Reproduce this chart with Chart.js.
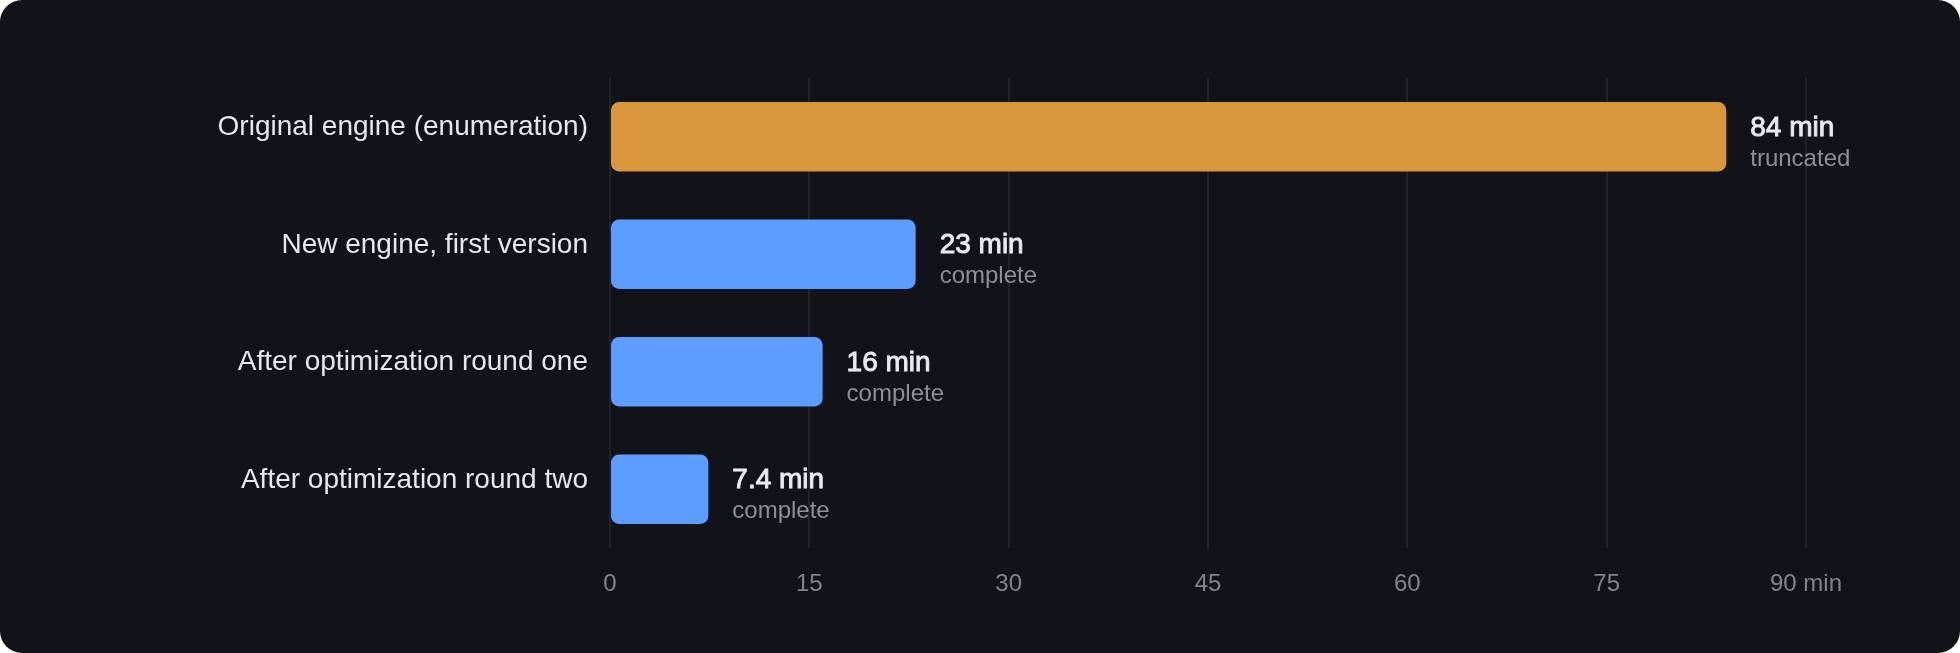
<!DOCTYPE html>
<html>
<head>
<meta charset="utf-8">
<script src="https://cdn.jsdelivr.net/npm/chart.js@4.4.1/dist/chart.umd.min.js"></script>
<style>
  html, body { margin: 0; padding: 0; background: #ffffff; }
  #card {
    width: 1960px; height: 653px;
    background: #111318;
    border-radius: 22px;
    overflow: hidden;
  }
  canvas { display: block; }
</style>
</head>
<body>
<div id="card"><canvas id="runtime" width="1960" height="653"></canvas></div>
<script>
var categories = [
  "Original engine (enumeration)",
  "New engine, first version",
  "After optimization round one",
  "After optimization round two"
];
var minutes = [84, 23, 16, 7.4];
var valueLabels = ["84 min", "23 min", "16 min", "7.4 min"];
var statusLabels = ["truncated", "complete", "complete", "complete"];
var barColors = ["#d9963d", "#5c9dff", "#5c9dff", "#5c9dff"];
var tickLabels = ["0", "15", "30", "45", "60", "75", "90 min"];

var fontFamily = '"Liberation Sans", Arial, Helvetica, sans-serif';

// draws "84 min" / "truncated" to the right of each bar
var barNotes = {
  id: 'barNotes',
  afterDatasetsDraw: function(chart) {
    var ctx = chart.ctx;
    var meta = chart.getDatasetMeta(0);
    ctx.save();
    ctx.textAlign = 'left';
    ctx.textBaseline = 'alphabetic';
    meta.data.forEach(function(bar, i) {
      var x = bar.x + 24;
      // regular face with a thin stroke, reads as a medium weight
      ctx.font = '28px ' + fontFamily;
      ctx.fillStyle = '#e8eaed';
      ctx.strokeStyle = '#e8eaed';
      ctx.lineWidth = 0.9;
      ctx.fillText(valueLabels[i], x, bar.y - 1);
      ctx.strokeText(valueLabels[i], x, bar.y - 1);
      ctx.font = '24px ' + fontFamily;
      ctx.fillStyle = '#8b9098';
      ctx.fillText(statusLabels[i], x, bar.y + 29);
    });
    ctx.restore();
  }
};

var runtimeChart = new Chart(document.getElementById('runtime'), {
  type: 'bar',
  data: {
    labels: categories,
    datasets: [{
      data: minutes,
      backgroundColor: barColors,
      borderWidth: 0,
      borderRadius: 8,
      borderSkipped: false,
      categoryPercentage: 1,
      barPercentage: 0.59
    }]
  },
  options: {
    indexAxis: 'y',
    responsive: false,
    devicePixelRatio: 1,
    animation: false,
    layout: {
      padding: { top: 78, right: 154, bottom: 45, left: 0 }
    },
    plugins: {
      legend: { display: false },
      tooltip: { enabled: false }
    },
    scales: {
      x: {
        min: 0,
        max: 90,
        grid: {
          color: 'rgba(255,255,255,0.07)',
          lineWidth: 2,
          drawTicks: false
        },
        border: { display: false },
        ticks: {
          stepSize: 15,
          padding: 22,
          color: '#7f848c',
          font: { family: fontFamily, size: 24 },
          callback: function(value, index) { return tickLabels[index]; }
        },
        afterFit: function(scale) { scale.height = 60; }
      },
      y: {
        grid: { display: false, drawTicks: false },
        border: { display: false },
        ticks: {
          padding: 22,
          labelOffset: -9,
          color: '#e6e7e9',
          font: { family: fontFamily, size: 28 }
        },
        afterFit: function(scale) { scale.width = 610; }
      }
    }
  },
  plugins: [barNotes]
});
</script>
</body>
</html>
